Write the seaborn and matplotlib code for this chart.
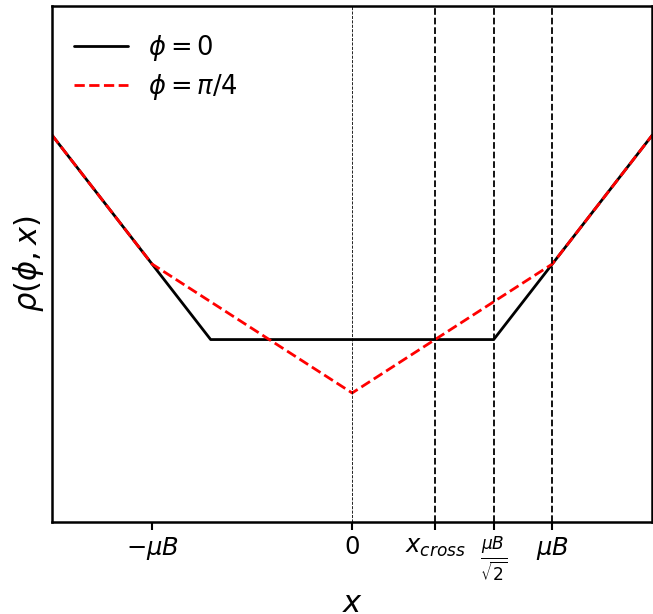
import numpy as np
import pandas as pd
import matplotlib
matplotlib.use("Agg")
import matplotlib.pyplot as plt
import seaborn as sns

sns.set_style("white")
plt.rcParams['font.family'] = ['DejaVu Sans']
plt.rcParams['mathtext.fontset'] = 'dejavusans'
plt.rcParams['text.color'] = 'black'
plt.rcParams['axes.labelcolor'] = 'black'
plt.rcParams['xtick.color'] = 'black'
plt.rcParams['ytick.color'] = 'black'

muB = 1.0
x_cross = np.sqrt(2) - 1
x_half = 1 / np.sqrt(2)

# phi = 0 curve breakpoints
x_phi0 = [-1.5, -x_half, x_half, 1.5]
y_phi0 = [1.5, x_half, x_half, 1.5]
# phi = pi/4 curve breakpoints
x_phi4 = [-1.5, -1.0, 0.0, 1.0, 1.5]
y_phi4 = [1.5, 1.0, 0.5, 1.0, 1.5]

tick_pos = [-muB, 0, x_cross, x_half, muB]
tick_labels = [r'$-\mu B$', r'$0$', r'$x_{cross}$', r'$\frac{\mu B}{\sqrt{2}}$', r'$\mu B$']

df0 = pd.DataFrame({'x': x_phi0, 'y': y_phi0})
df4 = pd.DataFrame({'x': x_phi4, 'y': y_phi4})

fig = plt.figure(figsize=(6.53, 6.14), dpi=100)
ax = fig.add_axes([0.0796, 0.150, 0.9194, 0.840])

sns.lineplot(data=df0, x='x', y='y', ax=ax, color='black', lw=2, label=r'$\phi = 0$', sort=False)
sns.lineplot(data=df4, x='x', y='y', ax=ax, color='red', lw=2, linestyle='--', label=r'$\phi = \pi/4$', sort=False)

ax.axvline(0, color='black', ls='--', lw=0.6)
for xv in [x_cross, x_half, muB]:
    ax.axvline(xv, color='black', ls='--', lw=1.3)

ax.set_xlim(-1.5, 1.5)
ax.set_ylim(0, 2)
ax.set_xticks(tick_pos)
ax.set_xticklabels(tick_labels, fontsize=17.5, color='black')
ax.set_yticks([])
ax.tick_params(axis='x', direction='out', length=6, width=1.5, bottom=True, colors='black')
for s in ax.spines.values():
    s.set_linewidth(1.8)
    s.set_color('black')
ax.set_xlabel(r'$x$', fontsize=22, color='black')
ax.set_ylabel(r'$\rho(\phi, x)$', fontsize=22, color='black')
ax.legend(loc='upper left', bbox_to_anchor=(0.0, 0.99), fontsize=18.5, frameon=False,
          handlelength=2.1, borderaxespad=0.45, labelspacing=0.35)

fig.savefig('out.png', dpi=100)
